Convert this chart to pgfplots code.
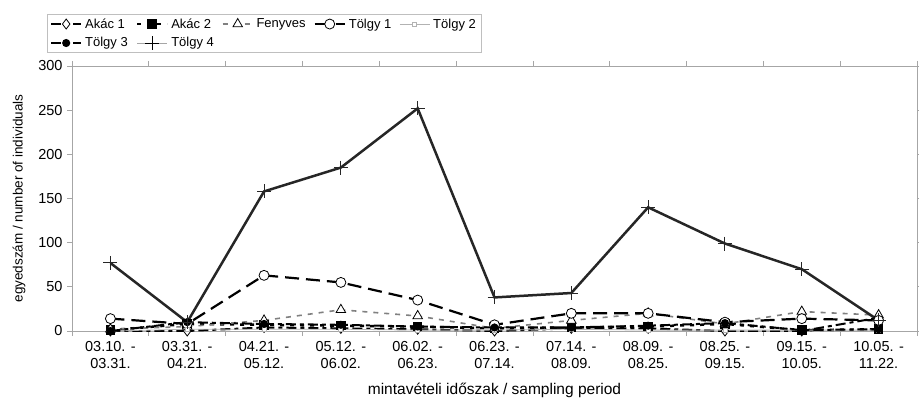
\documentclass[border=0pt]{standalone}
\usepackage{fontspec}
\setmainfont{Liberation Sans}
\usepackage{pgfplots}
\pgfplotsset{compat=1.18}
\begin{document}
\begin{tikzpicture}
\begin{axis}[
  name=ax,
  scale only axis, width=845bp, height=265bp,
  xmin=-0.5, xmax=10.5, ymin=0, ymax=300,
  ytick={0,50,...,300},
  xtick={0,...,10},
  xticklabels={{03.10. -\\03.31.},{03.31. -\\04.21.},{04.21. -\\05.12.},{05.12. -\\06.02.},{06.02. -\\06.23.},{06.23. -\\07.14.},{07.14. -\\08.09.},{08.09. -\\08.25.},{08.25. -\\09.15.},{09.15. -\\10.05.},{10.05. -\\11.22.}},
  minor xtick={-0.5,0.5,...,10.5},
  major x tick style={draw=none},
  axis line style={gray!70, line width=0.8bp},
  tick style={gray!70, line width=0.8bp},
  tick align=outside, major tick length=5bp, minor tick length=5bp,
  /pgf/number format/assume math mode=true,
  x tick label style={align=center, font=\fontsize{14.5bp}{17bp}\selectfont, yshift=-2bp},
  y tick label style={font=\fontsize{14.5bp}{16bp}\selectfont, xshift=-1bp},
  xlabel={mintavételi időszak / sampling period},
  xlabel style={font=\fontsize{15.5bp}{17bp}\selectfont, at={(axis description cs:0.5,-0.2226)}, anchor=center},
  ylabel={egyedszám / number of individuals},
  ylabel style={font=\fontsize{13.5bp}{16bp}\selectfont, at={(axis description cs:-0.0627,0.5)}, anchor=center},
  legend columns=5,
  legend cell align=left,
  legend style={at={(axis description cs:-0.0296,1.195)}, anchor=north west, draw=gray!50,
    font=\fontsize{13bp}{15bp}\selectfont, inner xsep=3bp, inner ysep=2bp,
    row sep=4bp,
    /tikz/every odd column/.append style={column sep=1bp},
    /tikz/every even column/.append style={column sep=6bp}},
  legend image code/.code={\draw[mark repeat=2,mark phase=2,#1] plot coordinates {(0bp,0bp) (15bp,0bp) (30bp,0bp)};},
]
\addplot[black, line width=2bp, dash pattern=on 10bp off 4bp on 4bp off 4bp, mark=diamond*, mark size=5bp, mark options={solid, fill=white, line width=0.8bp}]
 coordinates {(0,0) (1,0) (2,4) (3,3) (4,2) (5,0) (6,3) (7,3) (8,0) (9,0) (10,15)};
\addlegendentry{Akác 1}
\addplot[black, line width=2.5bp, dash pattern=on 4bp off 6bp, mark=square*, mark size=3.5bp, mark options={solid, fill=black}]
 coordinates {(0,1) (1,8) (2,7) (3,6) (4,5) (5,3) (6,4) (7,5) (8,8) (9,1) (10,2)};
\addlegendentry{Akác 2}
\addplot[gray, line width=1.6bp, dash pattern=on 5bp off 6bp, mark=triangle*, mark size=5.5bp, mark options={solid, black, fill=white, line width=0.8bp}]
 coordinates {(0,2) (1,5) (2,12) (3,24) (4,17) (5,3) (6,12) (7,20) (8,8) (9,22) (10,18)};
\addlegendentry{Fenyves}
\addplot[black, line width=2.2bp, dash pattern=on 14bp off 7bp, mark=*, mark size=5bp, mark options={solid, fill=white, line width=0.8bp}]
 coordinates {(0,14) (1,8) (2,63) (3,55) (4,35) (5,7) (6,20) (7,20) (8,10) (9,14) (10,12)};
\addlegendentry{Tölgy 1}
\addplot[gray!60, line width=0.8bp, mark=square*, mark size=2bp, mark options={solid, fill=white}]
 coordinates {(0,0) (1,2) (2,2) (3,2) (4,1) (5,1) (6,2) (7,1) (8,1) (9,1) (10,1)};
\addlegendentry{Tölgy 2}
\addplot[black, line width=2bp, dash pattern=on 10bp off 4bp on 4bp off 4bp, mark=*, mark size=3bp, mark options={solid, fill=black}]
 coordinates {(0,0) (1,10) (2,8) (3,7) (4,5) (5,4) (6,4) (7,6) (8,9) (9,1) (10,2)};
\addlegendentry{Tölgy 3}
\addplot[black!85, line width=2.5bp, mark=+, mark size=7bp, mark options={line width=1bp},
  legend image post style={line width=0.8bp, gray!70, mark options={black, line width=0.8bp}}]
 coordinates {(0,77) (1,10) (2,158) (3,185) (4,252) (5,38) (6,43) (7,140) (8,99) (9,70) (10,12)};
\addlegendentry{Tölgy 4}
\end{axis}
\pgfresetboundingbox
\path ([shift={(-72bp,-67bp)}]ax.south west) rectangle ([shift={(2bp,66bp)}]ax.north east);
\end{tikzpicture}
\end{document}
